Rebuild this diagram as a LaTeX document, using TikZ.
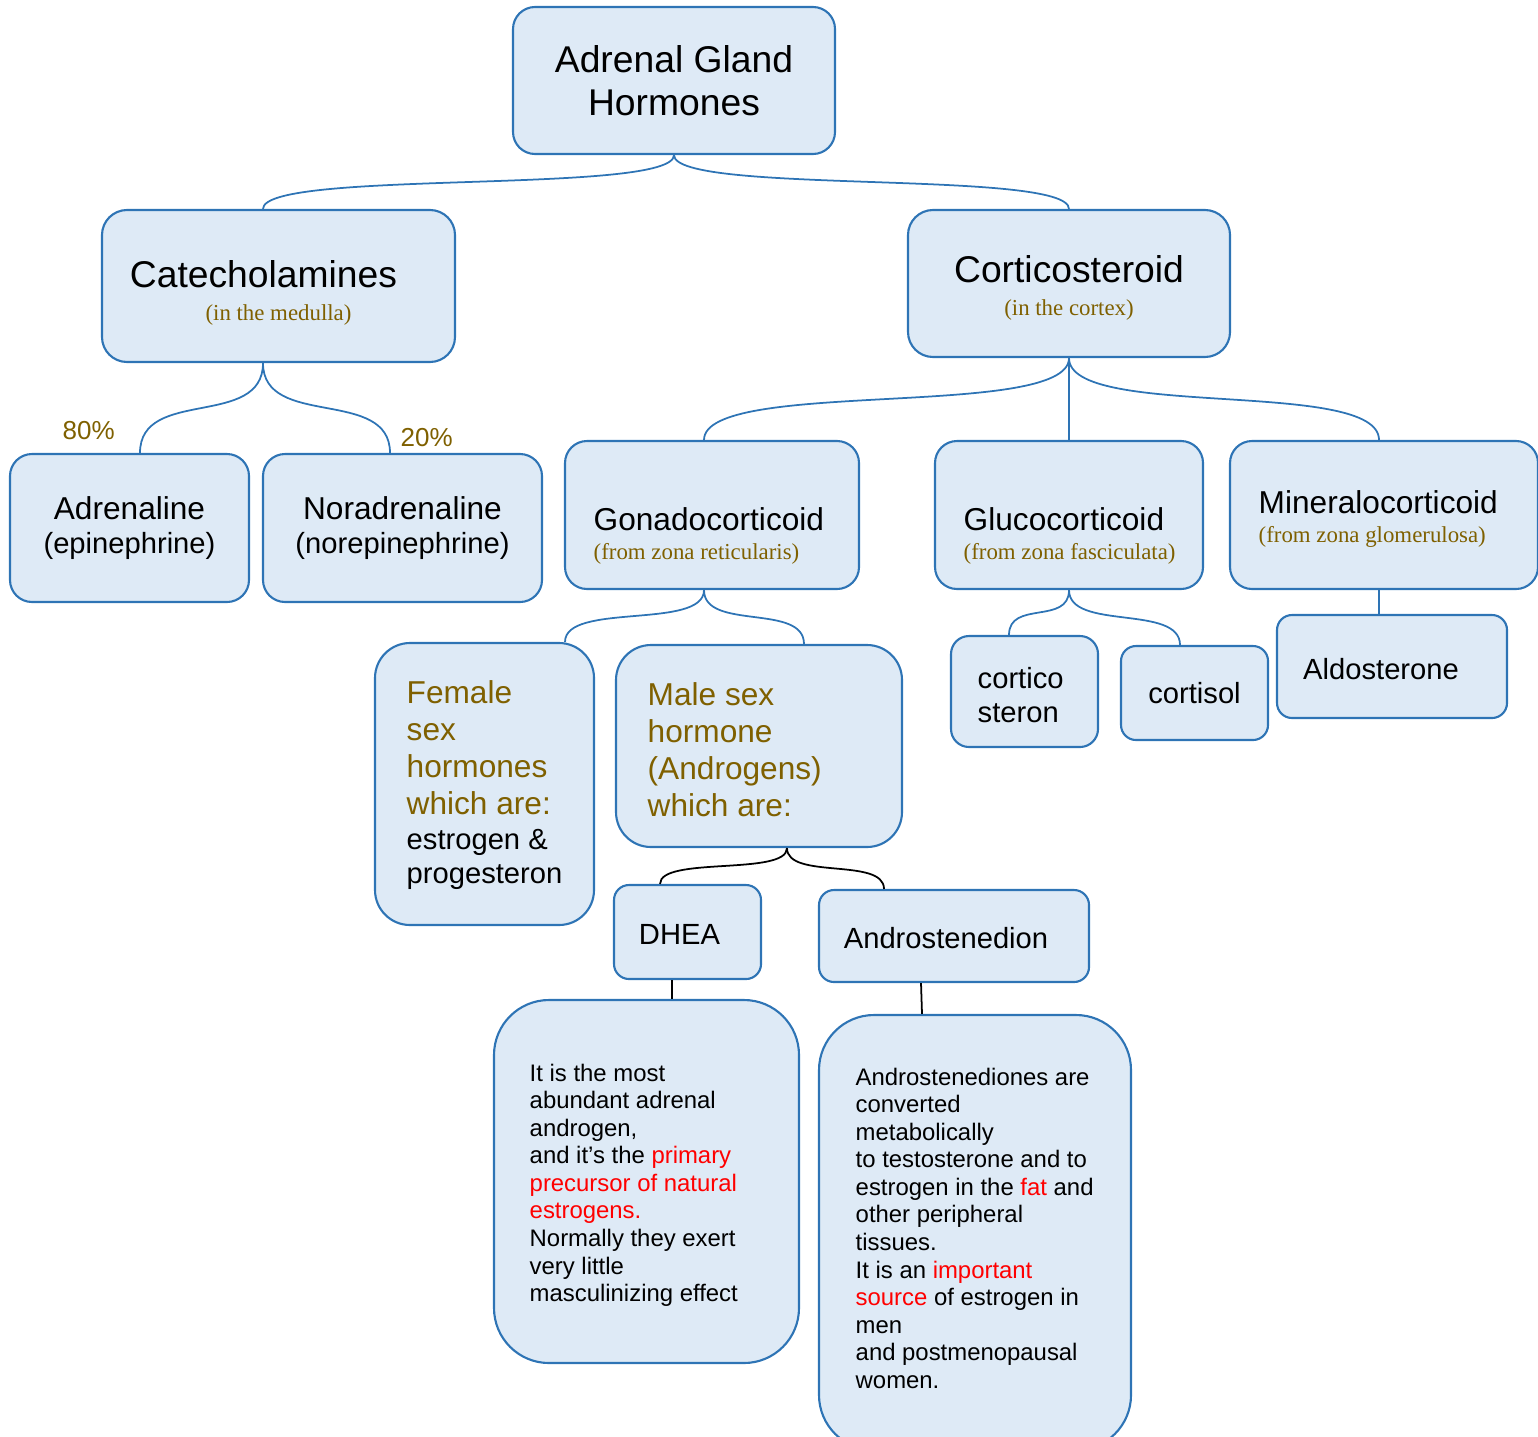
\documentclass[tikz,border=0pt]{standalone}
\usepackage{fontspec}
\setmainfont{Liberation Sans}
\newfontfamily\serifsub{Liberation Serif}
\usepackage{tikz}

\definecolor{boxfill}{HTML}{DEEAF6}
\definecolor{boxline}{HTML}{2E74B5}
\definecolor{gold}{HTML}{7F6000}

\newcommand{\fnTitle}{\fontsize{10.6}{12.2}\selectfont}
\newcommand{\fnMid}{\fontsize{9}{10.5}\selectfont}
\newcommand{\fnSmall}{\fontsize{8.3}{9.7}\selectfont}
\newcommand{\fnNote}{\fontsize{6.8}{7.85}\selectfont}
\newcommand{\fnSub}[1]{{\serifsub\fontsize{6.5}{7.7}\selectfont\color{gold}#1}}

\tikzset{
  box/.style={draw=boxline, fill=boxfill, line width=0.6pt, rounded corners=#1, inner sep=0pt, align=center},
  box/.default=2.2mm,
  txt/.style={anchor=north west, inner sep=0pt, align=left},
  link/.style={draw=boxline, line width=0.5pt},
  blink/.style={draw=black, line width=0.5pt},
  tie/.style={out=-90, in=90, distance=#1}
}

\begin{document}
\begin{tikzpicture}[x=0.1mm, y=-0.1mm]
\useasboundingbox (0,0) rectangle (1538,1436);

% oeverste niveau
\node[box, minimum width=32.2mm, minimum height=14.7mm, font=\fnTitle] (root) at (674,80.5) {Adrenal Gland\\Hormones};
\node[box=2.5mm, minimum width=35.3mm, minimum height=15.2mm] (cat) at (278.5,286) {};
\node[box=2.5mm, minimum width=32.2mm, minimum height=14.7mm] (cort) at (1069,283.5) {};
\node[font=\fnTitle, align=center, anchor=north, inner sep=0pt] (cat-t) at (278.5,260) {Catecholamines\hspace*{3mm}\\[-2.8pt]\fnSub{(in the medulla)}};
\node[font=\fnTitle, align=center, anchor=north, inner sep=0pt] (cort-t) at (1069,255) {Corticosteroid\\[-3pt]\fnSub{(in the cortex)}};

% medulla
\node[box, minimum width=23.9mm, minimum height=14.8mm, font=\fnMid] (adr) at (129.5,528) {Adrenaline\\[-1pt]{\fnSmall (epinephrine)}};
\node[box, minimum width=27.9mm, minimum height=14.8mm, font=\fnMid] (nor) at (402.5,528) {Noradrenaline\\[-1pt]{\fnSmall (norepinephrine)}};
\node[inner sep=0pt, anchor=north west, text=gold, font=\fontsize{7.4}{8.5}\selectfont] (p80) at (62,421) {80\%};
\node[inner sep=0pt, anchor=north west, text=gold, font=\fontsize{7.4}{8.5}\selectfont] (p20) at (400,428) {20\%};

% cortex
\node[box, minimum width=29.4mm, minimum height=14.8mm] (gon) at (712,515) {};
\node[box, minimum width=26.8mm, minimum height=14.8mm] (glu) at (1069,515) {};
\node[box, minimum width=30.8mm, minimum height=14.8mm] (min) at (1384,515) {};
\node[txt, font=\fnMid] (gon-t) at (593,507) {Gonadocorticoid\\[-2.4pt]\fnSub{(from zona reticularis)}};
\node[txt, font=\fnMid] (glu-t) at (963,507) {Glucocorticoid\\[-2.4pt]\fnSub{(from zona fasciculata)}};
\node[txt, font=\fnMid] (min-t) at (1258,490) {Mineralocorticoid\\[-2.4pt]\fnSub{(from zona glomerulosa)}};

% kønshormoner
\node[box=3.5mm, minimum width=21.9mm, minimum height=28.2mm] (fem) at (484.5,784) {};
\node[box=3.5mm, minimum width=28.6mm, minimum height=20.2mm] (male) at (759,746) {};
\node[txt, font=\fnMid, text=gold] (fem-t) at (406,680) {Female\\sex\\hormones\\which are:\\[-0.6pt]\textcolor{black}{\fnSmall estrogen \&}\\[-0.8pt]\textcolor{black}{\fnSmall progesteron}};
\node[txt, font=\fnMid, text=gold] (male-t) at (647,682) {Male sex\\hormone\\(Androgens)\\which are:};

% gluco og mineralo
\node[box=1.8mm, minimum width=14.7mm, minimum height=11.1mm] (cs) at (1024.5,691.5) {};
\node[txt, font=\fnSmall] (cs-t) at (977,667) {cortico\\steron};
\node[box=1.5mm, minimum width=14.7mm, minimum height=9.4mm, font=\fnSmall] (ctl) at (1194.5,693) {cortisol};
\node[box=1.5mm, minimum width=23mm, minimum height=10.3mm] (ald) at (1392,666.5) {};
\node[font=\fnSmall, inner sep=0pt] (ald-t) at ([xshift=-1.1mm,yshift=-0.3mm]ald.center) {Aldosterone};

% androgener
\node[box=1.5mm, minimum width=14.7mm, minimum height=9.4mm] (dhea) at (687.5,932) {};
\node[font=\fnSmall, inner sep=0pt] (dhea-t) at ([xshift=-0.8mm,yshift=-0.2mm]dhea.center) {DHEA};
\node[box=1.5mm, minimum width=27mm, minimum height=9.2mm] (and) at (954,936) {};
\node[font=\fnSmall, inner sep=0pt] (and-t) at ([xshift=-0.8mm,yshift=-0.2mm]and.center) {Androstenedion};
\node[box=5.5mm, minimum width=30.5mm, minimum height=36.3mm] (ddesc) at (646.5,1181.5) {};
\node[box=5.5mm, minimum width=31.2mm, minimum height=43.5mm] (adesc) at (975,1232.5) {};
\node[txt, font=\fnNote] (ddesc-t) at (529,1063) {It is the most\\abundant adrenal\\androgen,\\and it’s the \textcolor{red}{primary}\\\textcolor{red}{precursor of natural}\\\textcolor{red}{estrogens.}\\Normally they exert\\very little\\masculinizing effect};
\node[txt, font=\fnNote] (adesc-t) at (855,1067) {Androstenediones are\\converted\\metabolically\\to testosterone and to\\estrogen in the \textcolor{red}{fat} and\\other peripheral\\tissues.\\It is an \textcolor{red}{important}\\\textcolor{red}{source} of estrogen in\\men\\and postmenopausal\\women.};

% forbindelser
\draw[link] (root.south) to[tie=4mm] ([xshift=-1.55mm]cat.north);
\draw[link] (root.south) to[tie=4mm] (cort.north);
\draw[link] ([xshift=-1.55mm]cat.south) to[tie=6.6mm] ([xshift=1.05mm]adr.north);
\draw[link] ([xshift=-1.55mm]cat.south) to[tie=6.6mm] ([xshift=-1.25mm]nor.north);
\draw[link] (cort.south) to[tie=6.2mm] ([xshift=-0.8mm]gon.north);
\draw[link] (cort.south) -- (glu.north);
\draw[link] (cort.south) to[tie=6.2mm] ([xshift=-0.5mm]min.north);
\draw[link] ([xshift=-0.8mm]gon.south) to[tie=4mm] ([xshift=8.05mm]fem.north);
\draw[link] ([xshift=-0.8mm]gon.south) to[tie=4.1mm] ([xshift=4.5mm]male.north);
\draw[link] (glu.south) to[tie=3.5mm] ([xshift=-1.55mm]cs.north);
\draw[link] (glu.south) to[tie=4.1mm] ([xshift=-1.45mm]ctl.north);
\draw[link] ([xshift=-0.5mm]min.south) -- ([xshift=-1.3mm]ald.north);
\draw[blink] ([xshift=2.8mm]male.south) to[tie=2.8mm] ([xshift=-2.75mm]dhea.north);
\draw[blink] ([xshift=2.8mm]male.south) to[tie=3.2mm] ([xshift=-7mm]and.north);
\draw[blink] ([xshift=-1.55mm]dhea.south) -- ([xshift=2.55mm]ddesc.north);
\draw[blink] ([xshift=-3.3mm]and.south) -- ([xshift=-5.3mm]adesc.north);
\end{tikzpicture}
\end{document}
